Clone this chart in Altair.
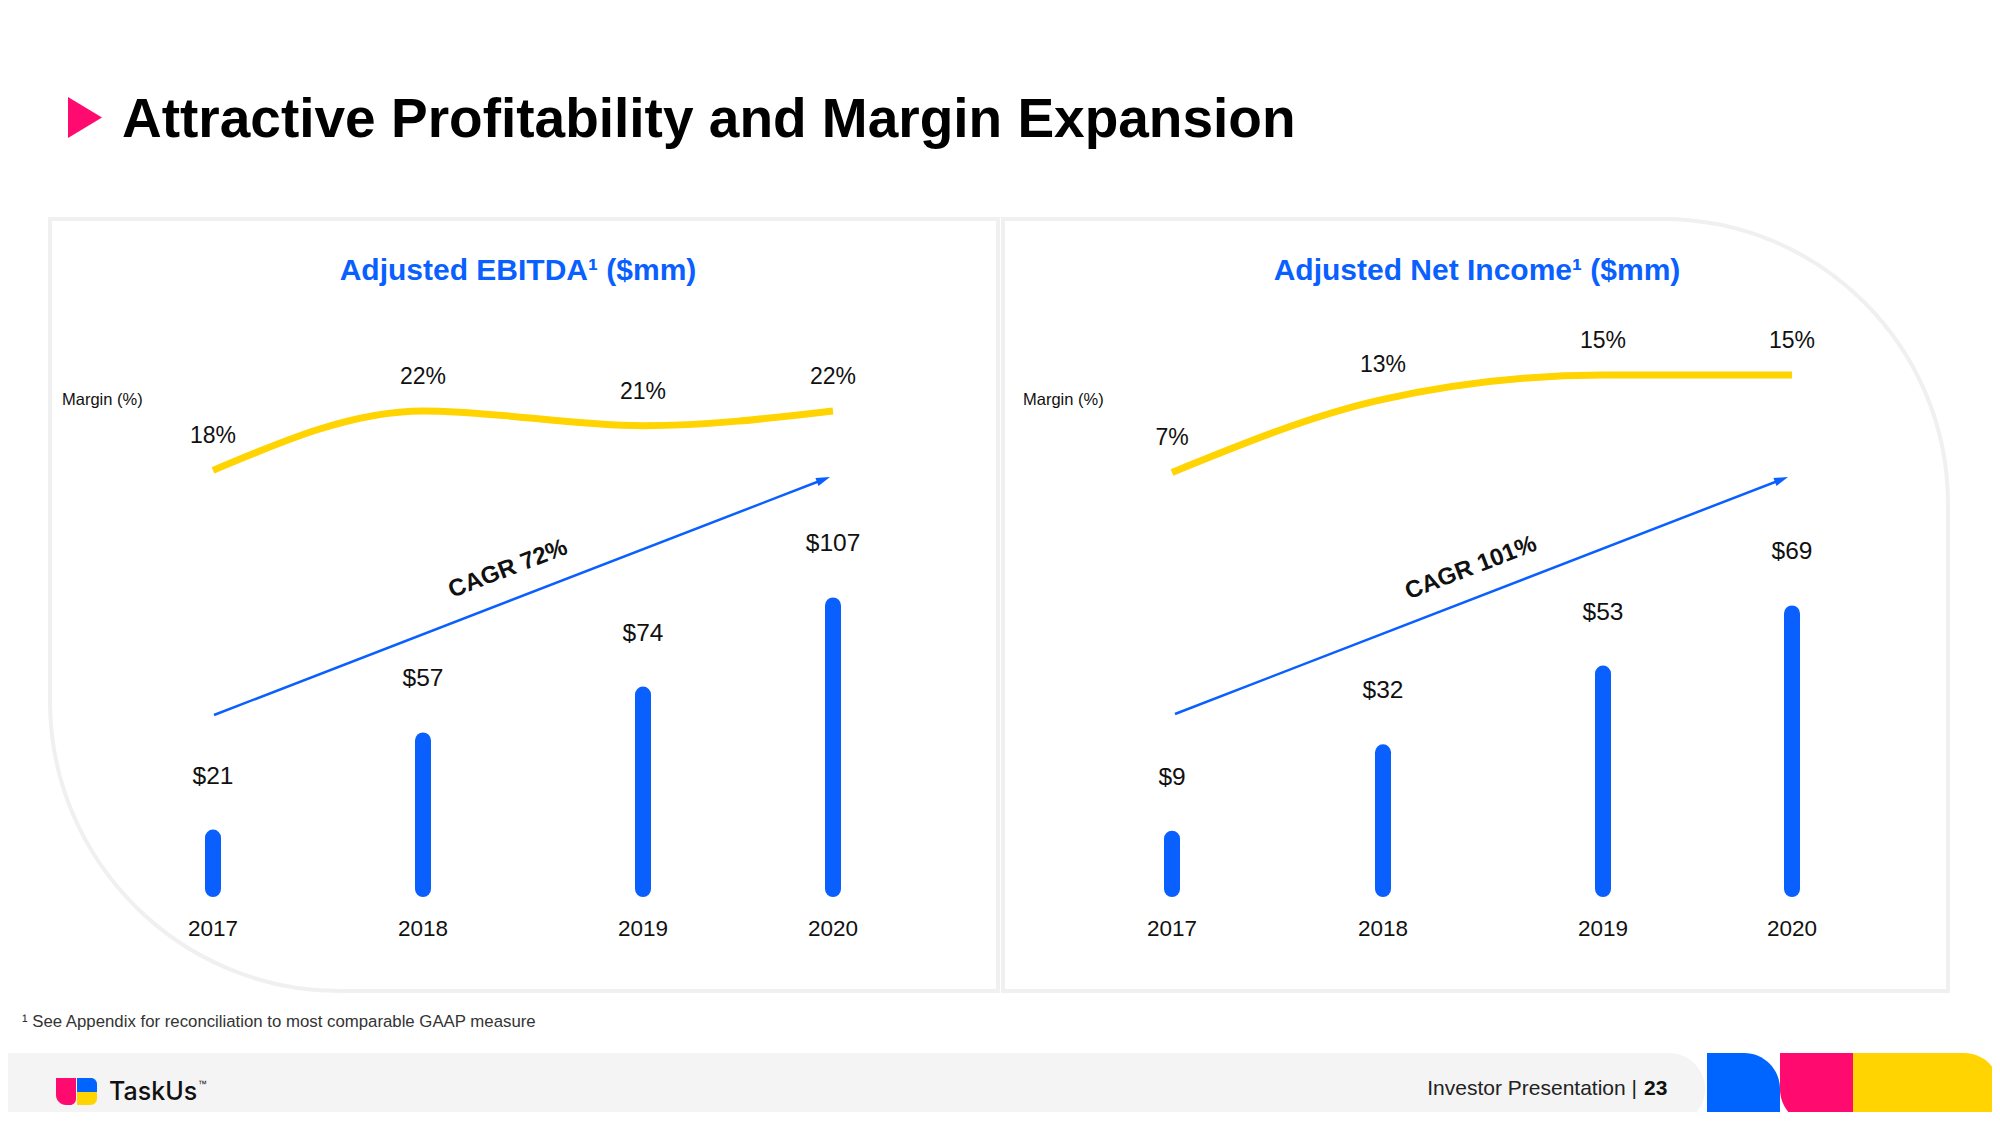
import altair as alt
import pandas as pd

# ---------------- data ----------------
years = ["2017", "2018", "2019", "2020"]
ebitda = [21, 57, 74, 107]
ebitda_margin = [18, 22, 21, 22]
net_income = [9, 32, 53, 69]
net_income_margin = [7, 13, 15, 15]
panel_titles = ["Adjusted EBITDA¹ ($mm)", "Adjusted Net Income¹ ($mm)"]
cagr_labels = ["CAGR 72%", "CAGR 101%"]
slide_title = "Attractive Profitability and Margin Expansion"
footnote = "¹ See Appendix for reconciliation to most comparable GAAP measure"

# ---------------- style / layout ----------------
BLUE = "#0A5FFF"
YELLOW = "#FFD400"
PINK = "#FF0A6E"
BORDER = "#F0F0F0"
FONT = "Liberation Sans"
W, H = 1984, 1104
OFF = 8  # page margin: slide coords -> chart coords


def px(x):
    return x - OFF


def py(y):
    return y - OFF


one = pd.DataFrame({"k": [0]})


def rect(x0, y0, x1, y1, **kw):
    return alt.Chart(one).mark_rect(**kw).encode(
        x=alt.value(px(x0)), x2=alt.value(px(x1)),
        y=alt.value(py(y0)), y2=alt.value(py(y1)))


def text(s, x, y, size, **kw):
    kw.setdefault("font", FONT)
    kw.setdefault("color", "#111111")
    return alt.Chart(pd.DataFrame({"t": [s]})).mark_text(fontSize=size, **kw).encode(
        text="t:N", x=alt.value(px(x)), y=alt.value(py(y)))


def arrow(x0, y0, x1, y1, ang):
    line = alt.Chart(one).mark_rule(color=BLUE, strokeWidth=2.5).encode(
        x=alt.value(px(x0)), x2=alt.value(px(x1)),
        y=alt.value(py(y0)), y2=alt.value(py(y1)))
    head = alt.Chart(one).mark_point(
        shape="M-1,-0.6L1,0L-1,0.6Z", filled=True, size=196, color=BLUE,
        opacity=1, angle=ang, strokeWidth=0).encode(
        x=alt.value(px(x1)), y=alt.value(py(y1)))
    return [line, head]


def panel(values, margins, xr, bar_dom, bar_rng, m_dom, m_rng):
    df = pd.DataFrame({
        "year": years,
        "yr": [int(y) for y in years],
        "value": values,
        "margin": margins,
        "vlabel": ["$" + str(v) for v in values],
        "mlabel": [str(m) + "%" for m in margins],
    })
    xs = alt.X("yr:Q", axis=None,
               scale=alt.Scale(domain=[int(y) for y in years], range=[px(v) for v in xr],
                               nice=False, zero=False))
    yb = alt.Y("value:Q", axis=None,
               scale=alt.Scale(domain=bar_dom, range=bar_rng, nice=False, zero=False))
    ym = alt.Y("margin:Q", axis=None,
               scale=alt.Scale(domain=m_dom, range=m_rng, nice=False, zero=False))
    base = alt.Chart(df)
    bars = base.mark_rule(strokeWidth=16, strokeCap="round", color=BLUE).encode(
        x=xs, y=yb, y2=alt.value(py(889)))
    vlab = base.mark_text(font=FONT, fontSize=24.5, dy=-61, baseline="middle",
                          color="#111111").encode(x=xs, y=yb, text="vlabel:N")
    line = base.mark_line(color=YELLOW, strokeWidth=7, interpolate="monotone").encode(
        x=xs, y=ym)
    mlab = base.mark_text(font=FONT, fontSize=23, dy=-34, baseline="middle",
                          color="#111111").encode(x=xs, y=ym, text="mlabel:N")
    ylab = base.mark_text(font=FONT, fontSize=22.5, baseline="middle",
                          color="#111111").encode(x=xs, y=alt.value(py(929)), text="year:N")
    return [bars, vlab, line, mlab, ylab]


layers = []

# panel frames
layers.append(rect(50, 219, 998, 991, fill="white", stroke=BORDER, strokeWidth=4,
                   cornerRadiusBottomLeft=290))
layers.append(rect(1003, 219, 1948, 991, fill="white", stroke=BORDER, strokeWidth=4,
                   cornerRadiusTopRight=285))

# slide title
layers.append(alt.Chart(one).mark_point(
    shape="M-0.83,-1L0.83,0L-0.83,1Z", filled=True, size=1681, color=PINK,
    opacity=1, strokeWidth=0).encode(x=alt.value(px(85)), y=alt.value(py(117.5))))
layers.append(text(slide_title, 122, 137, 55, fontWeight="bold", align="left",
                   baseline="alphabetic", color="#000000"))

# panel titles & margin captions
layers.append(text(panel_titles[0], 518, 271, 30, fontWeight="bold", color=BLUE,
                   align="center", baseline="middle"))
layers.append(text(panel_titles[1], 1477, 271, 30, fontWeight="bold", color=BLUE,
                   align="center", baseline="middle"))
layers.append(text("Margin (%)", 62, 400, 16.5, align="left", baseline="middle"))
layers.append(text("Margin (%)", 1023, 400, 16.5, align="left", baseline="middle"))

# CAGR arrows and labels
layers += arrow(214, 715, 823.5, 479.5, 338.9)
layers += arrow(1175, 714, 1781.5, 479.5, 338.9)
layers.append(text(cagr_labels[0], 508, 569, 24, fontWeight="bold", angle=339,
                   align="center", baseline="middle"))
layers.append(text(cagr_labels[1], 1471, 568, 24, fontWeight="bold", angle=339,
                   align="center", baseline="middle"))

# data panels
layers += panel(ebitda, ebitda_margin, [213, 423, 643, 833],
                [0, 110], [886.2, 589.4], [18, 22], [462.4, 402.9])
layers += panel(net_income, net_income_margin, [1172, 1383, 1603, 1792],
                [0, 75], [864.5, 582.95], [7, 15], [464.4, 367.1])

# footnote
layers.append(text(footnote, 22, 1022, 16.8, align="left", baseline="middle",
                   color="#333333"))

# footer band and brand shapes
layers.append(rect(0, 1053, 1705, 1125, fill="#F4F4F4",
                   cornerRadiusTopRight=36, cornerRadiusBottomRight=36))
layers.append(rect(1707, 1053, 1780, 1125, fill="#0064FF", cornerRadiusTopRight=40))
layers.append(rect(1780, 1053, 1853, 1125, fill=PINK, cornerRadiusBottomLeft=40))
layers.append(rect(1853, 1053, 2000, 1125, fill="#FFD400",
                   cornerRadiusTopRight=36, cornerRadiusBottomRight=36))

# TaskUs logo
layers.append(rect(56, 1078, 76, 1105, fill=PINK, cornerRadiusBottomLeft=10,
                   cornerRadiusBottomRight=6))
layers.append(rect(77, 1078, 97, 1092, fill="#0064FF", cornerRadiusTopRight=6))
layers.append(rect(77, 1092, 97, 1105, fill="#FFD400", cornerRadiusBottomRight=7))
layers.append(text("TaskUs", 109, 1100, 25, font="Inter", fontWeight=500,
                   align="left", baseline="alphabetic", color="#111111"))
layers.append(text("™", 198, 1084, 9, align="left", baseline="middle"))

# footer page label
layers.append(text("Investor Presentation |", 1637, 1089, 21, align="right",
                   baseline="middle", color="#222222"))
layers.append(text("23", 1644, 1089, 21, fontWeight="bold", align="left",
                   baseline="middle", color="#111111"))

chart = alt.layer(*layers).resolve_scale(
    x="independent", y="independent"
).properties(
    width=W, height=H, padding=0,
    autosize=alt.AutoSizeParams(type="none"),
    background="white",
).configure_view(strokeWidth=0)

chart.save("out.html", embed_options={"renderer": "svg", "actions": False})
